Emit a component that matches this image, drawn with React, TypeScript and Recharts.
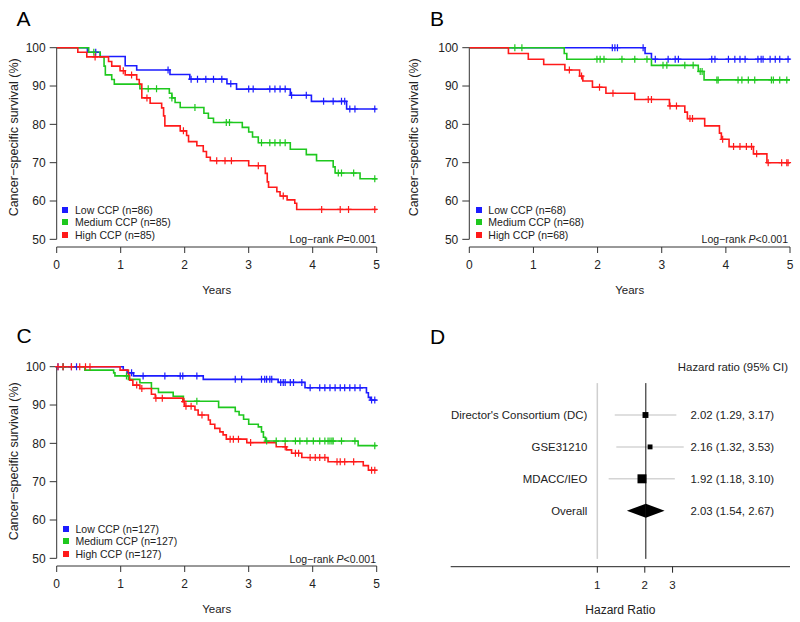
import React from "react";
import {
  ComposedChart,
  Line,
  Scatter,
  XAxis,
  YAxis,
  ReferenceLine,
  Legend,
} from "recharts";

const FONT = '"Liberation Sans", Arial, Helvetica, sans-serif';
const LOW = "#1c1cff";
const MED = "#1ec81e";
const HIGH = "#ff1a1a";
const AXIS = "#333";
const INK = "#222";

const YEAR_TICKS = [0, 1, 2, 3, 4, 5];
const SURV_TICKS = [50, 60, 70, 80, 90, 100];

// ---- Panel A (step times in years, survival %, censoring times) ----
const aLowT = [0, 0.48, 0.68, 1.07, 1.25, 1.77, 2.08, 2.66, 2.81, 3.65, 3.98, 4.53];
const aLowS = [100, 98.8, 97.7, 95.3, 94.2, 93.0, 91.8, 90.6, 89.2, 87.6, 86.0, 84.0];
const aLowC = [0.61, 1.74, 2.1, 2.2, 2.33, 2.45, 2.58, 2.72, 3.0, 3.07, 3.33, 3.41, 3.49, 3.57, 3.67, 3.9, 4.17, 4.32, 4.45, 4.5, 4.58, 4.66, 4.97];
const aMedT = [0, 0.5, 0.68, 0.74, 0.76, 0.86, 0.9, 1.3, 1.76, 1.8, 1.85, 1.93, 2.3, 2.37, 2.45, 2.9, 3.0, 3.06, 3.15, 3.65, 3.9, 4.06, 4.32, 4.35, 4.74];
const aMedS = [100, 98.8, 97.6, 95.2, 92.9, 91.7, 90.5, 89.3, 88.1, 86.9, 85.7, 84.4, 82.9, 81.6, 80.5, 79.2, 78.0, 76.7, 75.2, 73.5, 72.1, 70.5, 68.9, 67.3, 65.8];
const aMedC = [0.58, 1.43, 1.56, 1.8, 2.16, 2.65, 2.7, 3.2, 3.33, 3.41, 3.49, 3.57, 4.4, 4.45, 4.64, 4.97];
const aHighT = [0, 0.33, 0.47, 0.81, 0.86, 0.99, 1.07, 1.25, 1.29, 1.33, 1.46, 1.64, 1.67, 1.69, 1.93, 2.03, 2.06, 2.19, 2.29, 2.34, 2.4, 3.0, 3.26, 3.29, 3.31, 3.44, 3.49, 3.6, 3.72, 3.75];
const aHighS = [100, 98.8, 97.6, 96.4, 95.2, 94.0, 92.9, 91.7, 90.5, 86.9, 85.5, 84.3, 82.2, 79.6, 78.3, 77.1, 75.5, 74.4, 72.9, 71.4, 70.5, 69.2, 67.2, 65.0, 63.6, 62.4, 61.3, 60.3, 59.4, 57.8];
const aHighC = [0.6, 1.04, 1.17, 1.41, 1.98, 2.5, 2.63, 2.73, 3.15, 3.54, 4.14, 4.43, 4.56, 4.97];

// ---- Panel B ----
const bLowT = [0, 2.74, 2.84];
const bLowS = [100, 98.5, 97.0];
const bLowC = [2.23, 2.27, 2.31, 2.71, 2.9, 3.1, 3.21, 3.26, 3.78, 3.83, 4.04, 4.14, 4.22, 4.3, 4.5, 4.55, 4.58, 4.69, 4.77, 4.84, 4.97];
const bMedT = [0, 1.48, 1.52, 2.84, 3.57, 3.66];
const bMedS = [100, 98.5, 97.0, 95.4, 93.8, 91.6];
const bMedC = [0.71, 0.82, 1.99, 2.04, 2.1, 2.38, 2.58, 2.77, 3.02, 3.08, 3.36, 3.49, 3.6, 3.63, 3.86, 3.88, 4.19, 4.25, 4.35, 4.45, 4.71, 4.74, 4.84, 4.95];
const bHighT = [0, 0.61, 0.92, 1.16, 1.49, 1.72, 1.77, 1.92, 2.13, 2.58, 3.12, 3.36, 3.4, 3.67, 3.9, 3.93, 4.05, 4.43, 4.64];
const bHighS = [100, 98.5, 97.0, 95.6, 94.2, 92.6, 91.3, 89.7, 88.1, 86.5, 84.8, 83.2, 81.5, 79.6, 77.7, 76.1, 74.2, 72.3, 70.0];
const bHighC = [1.56, 1.75, 2.03, 2.24, 2.79, 2.84, 3.13, 3.23, 3.44, 3.48, 3.95, 4.12, 4.22, 4.32, 4.4, 4.48, 4.66, 4.87, 4.95, 4.97];

// ---- Panel C ----
const cLowT = [0, 1.04, 1.1, 1.2, 2.29, 3.46, 3.88, 4.84, 4.87, 4.9];
const cLowS = [100, 99.1, 98.4, 97.6, 96.7, 95.9, 94.5, 93.2, 92.0, 91.3];
const cLowC = [0.02, 0.1, 0.23, 0.31, 1.17, 1.35, 1.69, 1.93, 1.97, 2.19, 2.79, 2.89, 3.2, 3.25, 3.28, 3.33, 3.36, 3.5, 3.54, 3.57, 3.65, 3.7, 3.83, 3.96, 4.11, 4.19, 4.27, 4.35, 4.43, 4.5, 4.58, 4.66, 4.74, 4.92, 4.97];
const cMedT = [0, 0.44, 0.89, 0.91, 1.12, 1.3, 1.48, 1.59, 1.82, 1.98, 2.53, 2.79, 2.85, 2.92, 3.0, 3.15, 3.2, 3.23, 3.26, 4.71];
const cMedS = [100, 99.1, 98.4, 97.6, 96.7, 95.8, 94.3, 93.3, 92.3, 91.0, 89.4, 88.3, 87.4, 86.3, 85.0, 84.3, 83.0, 81.6, 80.6, 79.4];
const cMedC = [0.1, 1.09, 2.19, 3.28, 3.43, 3.57, 3.73, 3.8, 3.91, 4.01, 4.11, 4.19, 4.24, 4.27, 4.3, 4.32, 4.45, 4.66, 4.97];
const cHighT = [0, 0.99, 1.12, 1.14, 1.19, 1.3, 1.48, 1.54, 1.97, 2.0, 2.16, 2.21, 2.37, 2.4, 2.47, 2.55, 2.6, 2.65, 2.97, 3.43, 3.59, 3.67, 3.83, 4.24, 4.79, 4.87];
const cHighS = [100, 99.1, 97.8, 96.5, 95.2, 94.3, 92.8, 91.8, 90.9, 89.7, 88.7, 87.4, 86.1, 85.0, 83.9, 83.0, 82.2, 81.1, 80.2, 79.1, 78.3, 77.4, 76.3, 75.2, 74.2, 73.0];
const cHighC = [0.02, 0.1, 0.23, 0.36, 0.45, 0.52, 1.25, 1.33, 1.55, 1.65, 1.99, 2.02, 2.1, 2.27, 2.71, 2.76, 2.84, 3.03, 3.57, 3.73, 3.78, 3.96, 4.04, 4.11, 4.19, 4.38, 4.43, 4.5, 4.64, 4.92, 4.97];

// ---- Panel D (forest plot) ----
const studies = ["Director's Consortium (DC)", "GSE31210", "MDACC/IEO", "Overall"];
const hazard = [2.02, 2.16, 1.92, 2.03];
const ciLow = [1.29, 1.32, 1.18, 1.54];
const ciHigh = [3.17, 3.53, 3.1, 2.67];
const studyWeight = [0.25, 0.17, 0.58];

type Curve = { name: string; color: string; times: number[]; surv: number[]; censor: number[] };

const survAt = (c: Curve, t: number) => {
  let v = c.surv[0];
  c.times.forEach((x, i) => {
    if (x <= t) v = c.surv[i];
  });
  return v;
};

const stepData = (c: Curve) => [
  ...c.times.map((t, i) => ({ t, s: c.surv[i] })),
  { t: 5, s: c.surv[c.surv.length - 1] },
];

const censorData = (c: Curve) => c.censor.map((t) => ({ t, s: survAt(c, t) }));

const CensorMark = (p: any) => (
  <path
    d={`M${p.cx - 3},${p.cy}H${p.cx + 3}M${p.cx},${p.cy - 3.5}V${p.cy + 3.5}`}
    stroke={p.color}
    strokeWidth={1.2}
    fill="none"
  />
);

// legend keeps the order of the curves (Low, Medium, High)
const renderLegend = (curves: Curve[], gap: number) => (props: any) => {
  const items = (props.payload || []).filter((e: any) => e.type !== "none");
  const order = curves.map((c) => c.name);
  items.sort((a: any, b: any) => order.indexOf(a.value) - order.indexOf(b.value));
  return (
    <div style={{ fontSize: 10.5, color: INK, fontFamily: FONT }}>
      {items.map((e: any) => (
        <div key={e.value} style={{ display: "flex", alignItems: "center", height: 12.3, whiteSpace: "nowrap" }}>
          <span style={{ display: "inline-block", width: 6, height: 6, background: e.color, marginRight: gap }} />
          <span>{e.value}</span>
        </div>
      ))}
    </div>
  );
};

type KmProps = {
  width: number;
  height: number;
  plot: { left: number; right: number; top: number; bottom: number };
  curves: Curve[];
  legend: { x: number; y: number; gap: number };
  titleShift: number;
};

const KmPanel = ({ width, height, plot, curves, legend, titleShift }: KmProps) => (
  <ComposedChart
    width={width}
    height={height}
    margin={{ top: plot.top, right: width - plot.right, bottom: height - plot.bottom - 30, left: 0 }}
  >
    <XAxis
      type="number"
      dataKey="t"
      domain={[0, 5]}
      ticks={YEAR_TICKS}
      interval={0}
      height={30}
      tickSize={6}
      tickMargin={7}
      stroke={AXIS}
      tick={{ fill: INK, fontSize: 12 }}
      label={{ value: "Years", position: "bottom", offset: 9, fill: INK, fontSize: 11.5 }}
    />
    <YAxis
      type="number"
      dataKey="s"
      domain={[48, 100]}
      ticks={SURV_TICKS}
      interval={0}
      width={plot.left}
      axisLine={false}
      tickSize={7}
      tickMargin={4}
      stroke={AXIS}
      tick={{ fill: INK, fontSize: 12 }}
      label={{
        value: "Cancer−specific survival (%)",
        angle: -90,
        position: "insideLeft",
        offset: 14,
        dy: titleShift,
        fill: INK,
        fontSize: 12.5,
        style: { textAnchor: "middle" },
      }}
    />
    <ReferenceLine segment={[{ x: 0, y: 50 }, { x: 0, y: 100 }]} stroke={AXIS} />
    {curves.map((c) => (
      <Line
        key={c.name}
        name={c.name}
        data={stepData(c)}
        dataKey="s"
        type="stepAfter"
        stroke={c.color}
        strokeWidth={1.6}
        dot={false}
        isAnimationActive={false}
      />
    ))}
    {curves.map((c) => (
      <Scatter
        key={c.name + "-cens"}
        data={censorData(c)}
        dataKey="s"
        legendType="none"
        shape={(p: any) => <CensorMark {...p} color={c.color} />}
        isAnimationActive={false}
      />
    ))}
    <Legend
      layout="vertical"
      align="center"
      verticalAlign="middle"
      content={renderLegend(curves, legend.gap)}
      wrapperStyle={{ left: legend.x, top: legend.y, width: 200, height: 40 }}
    />
  </ComposedChart>
);

const curvesA: Curve[] = [
  { name: "Low CCP (n=86)", color: LOW, times: aLowT, surv: aLowS, censor: aLowC },
  { name: "Medium CCP (n=85)", color: MED, times: aMedT, surv: aMedS, censor: aMedC },
  { name: "High CCP (n=85)", color: HIGH, times: aHighT, surv: aHighS, censor: aHighC },
];
const curvesB: Curve[] = [
  { name: "Low CCP (n=68)", color: LOW, times: bLowT, surv: bLowS, censor: bLowC },
  { name: "Medium CCP (n=68)", color: MED, times: bMedT, surv: bMedS, censor: bMedC },
  { name: "High CCP (n=68)", color: HIGH, times: bHighT, surv: bHighS, censor: bHighC },
];
const curvesC: Curve[] = [
  { name: "Low CCP (n=127)", color: LOW, times: cLowT, surv: cLowS, censor: cLowC },
  { name: "Medium CCP (n=127)", color: MED, times: cMedT, surv: cMedS, censor: cMedC },
  { name: "High CCP (n=127)", color: HIGH, times: cHighT, surv: cHighS, censor: cHighC },
];

const fmt = (v: number) => v.toFixed(2);

const ForestPanel = () => {
  const rows = studies.map((name, i) => ({
    x: hazard[i],
    y: i + 1,
    name,
    lo: ciLow[i],
    hi: ciHigh[i],
    w: studyWeight[i],
    text: `${fmt(hazard[i])} (${fmt(ciLow[i])}, ${fmt(ciHigh[i])})`,
  }));
  const single = rows.slice(0, 3);
  const overall = rows[3];
  const xDomain: [number, number] = [0.1176, 16.66];
  return (
    <ComposedChart width={400} height={322} margin={{ top: 51.2, right: 10, bottom: 25.3, left: 50.7 }}>
      <XAxis
        type="number"
        dataKey="x"
        scale="log"
        domain={xDomain}
        ticks={[1, 2, 3]}
        interval={0}
        height={30}
        tickSize={6}
        tickMargin={8}
        stroke="#222"
        tick={{ fill: INK, fontSize: 11.5 }}
        label={{ value: "Hazard Ratio", position: "bottom", offset: 9, fill: INK, fontSize: 12 }}
      />
      <YAxis type="number" dataKey="y" domain={[-1, 5.755]} reversed hide />
      <ReferenceLine segment={[{ x: 1, y: 0 }, { x: 1, y: 5.51 }]} stroke="#cfcfcf" strokeWidth={1.5} />
      {single.map((r) => (
        <ReferenceLine
          key={r.name + "-ci"}
          segment={[{ x: r.lo, y: r.y }, { x: r.hi, y: r.y }]}
          stroke="#d4d4d4"
          strokeWidth={1.5}
        />
      ))}
      <ReferenceLine segment={[{ x: overall.x, y: 0 }, { x: overall.x, y: 5.51 }]} stroke="#111" strokeWidth={1} />
      <ReferenceLine
        segment={[{ x: overall.lo, y: overall.y }, { x: overall.x, y: overall.y }]}
        shape={(p: any) => (
          <polygon points={`${p.x1},${p.y1} ${p.x2},${p.y2 - 7} ${p.x2},${p.y2 + 7}`} fill="#000" />
        )}
      />
      <ReferenceLine
        segment={[{ x: overall.x, y: overall.y }, { x: overall.hi, y: overall.y }]}
        shape={(p: any) => (
          <polygon points={`${p.x1},${p.y1 - 7} ${p.x2},${p.y2} ${p.x1},${p.y1 + 7}`} fill="#000" />
        )}
      />
      <Scatter
        data={single}
        dataKey="y"
        isAnimationActive={false}
        shape={(p: any) => {
          const side = 11.8 * Math.sqrt(p.payload.w);
          return <rect x={p.cx - side / 2} y={p.cy - side / 2} width={side} height={side} fill="#000" />;
        }}
      />
      <Scatter
        data={rows.map((r) => ({ x: 1, y: r.y, name: r.name }))}
        dataKey="y"
        isAnimationActive={false}
        shape={(p: any) => (
          <text x={p.cx - 10} y={p.cy} textAnchor="end" dominantBaseline="central" fontSize={11.4} fill={INK}>
            {p.payload.name}
          </text>
        )}
      />
      <Scatter
        data={rows.map((r) => ({ x: 3.9, y: r.y, text: r.text }))}
        dataKey="y"
        isAnimationActive={false}
        shape={(p: any) => (
          <text x={p.cx} y={p.cy} textAnchor="start" dominantBaseline="central" fontSize={11.4} fill={INK}>
            {p.payload.text}
          </text>
        )}
      />
      <Scatter
        data={[{ x: xDomain[1], y: -0.51, text: "Hazard ratio (95% CI)" }]}
        dataKey="y"
        isAnimationActive={false}
        shape={(p: any) => (
          <text x={p.cx - 2} y={p.cy} textAnchor="end" dominantBaseline="central" fontSize={11.4} fill={INK}>
            {p.payload.text}
          </text>
        )}
      />
    </ComposedChart>
  );
};

const PText = ({ x, y, op, value }: { x: number; y: number; op: string; value: string }) => (
  <text x={x} y={y} textAnchor="end" dominantBaseline="central" fontSize={10.5} fill={INK}>
    Log−rank <tspan fontStyle="italic">P</tspan>
    {op}
    {value}
  </text>
);

export default function App() {
  return (
    <div
      style={{
        position: "absolute",
        left: 0,
        top: 0,
        width: 800,
        height: 622,
        background: "#fff",
        fontFamily: FONT,
        overflow: "hidden",
      }}
    >
      <div style={{ position: "absolute", left: 0, top: 0 }}>
        <KmPanel
          width={400}
          height={300}
          plot={{ left: 56.7, right: 376.7, top: 47.7, bottom: 247 }}
          curves={curvesA}
          legend={{ x: 62, y: 204, gap: 7 }}
          titleShift={-10}
        />
      </div>
      <div style={{ position: "absolute", left: 400, top: 0 }}>
        <KmPanel
          width={400}
          height={300}
          plot={{ left: 69.3, right: 390, top: 47.7, bottom: 247 }}
          curves={curvesB}
          legend={{ x: 76, y: 204, gap: 6.3 }}
          titleShift={-10}
        />
      </div>
      <div style={{ position: "absolute", left: 0, top: 300 }}>
        <KmPanel
          width={400}
          height={322}
          plot={{ left: 56.7, right: 376.7, top: 66.7, bottom: 266 }}
          curves={curvesC}
          legend={{ x: 62.5, y: 223, gap: 7 }}
          titleShift={-5}
        />
      </div>
      <div style={{ position: "absolute", left: 400, top: 300 }}>
        <ForestPanel />
      </div>
      <svg
        width={800}
        height={622}
        style={{ position: "absolute", left: 0, top: 0, pointerEvents: "none" }}
      >
        <g fontSize={21} fill="#000">
          <text x={16.5} y={18} dominantBaseline="central">A</text>
          <text x={430} y={18} dominantBaseline="central">B</text>
          <text x={16.5} y={335} dominantBaseline="central">C</text>
          <text x={430} y={336.5} dominantBaseline="central">D</text>
        </g>
        <PText x={376} y={238.5} op="=" value="0.001" />
        <PText x={788} y={238.5} op="<" value="0.001" />
        <PText x={376} y={558.5} op="<" value="0.001" />
      </svg>
    </div>
  );
}
